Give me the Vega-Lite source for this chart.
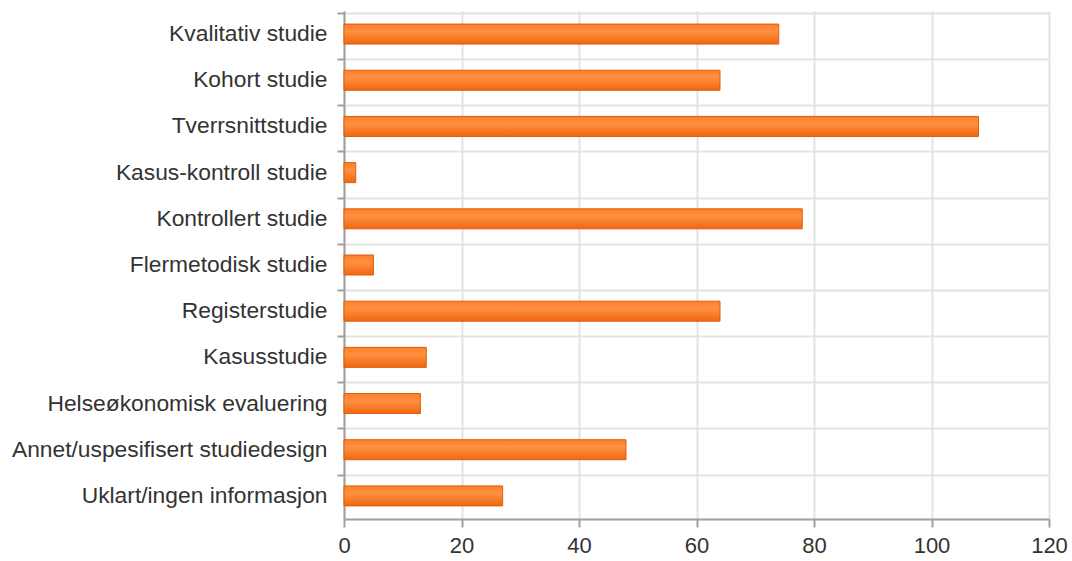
{
  "$schema": "https://vega.github.io/schema/vega-lite/v6.json",
  "autosize": {"type": "none"},
  "padding": {"left": 344, "top": 11, "right": 23, "bottom": 42},
  "width": 705,
  "height": 508,
  "background": "white",
  "data": {
    "values": [
      {"design": "Kvalitativ studie", "antall": 74},
      {"design": "Kohort studie", "antall": 64},
      {"design": "Tverrsnittstudie", "antall": 108},
      {"design": "Kasus-kontroll studie", "antall": 2},
      {"design": "Kontrollert studie", "antall": 78},
      {"design": "Flermetodisk studie", "antall": 5},
      {"design": "Registerstudie", "antall": 64},
      {"design": "Kasusstudie", "antall": 14},
      {"design": "Helseøkonomisk evaluering", "antall": 13},
      {"design": "Annet/uspesifisert studiedesign", "antall": 48},
      {"design": "Uklart/ingen informasjon", "antall": 27}
    ]
  },
  "mark": {
    "type": "bar",
    "size": 20,
    "stroke": "#dc5f0a",
    "strokeWidth": 1,
    "color": {
      "gradient": "linear",
      "x1": 0, "y1": 0, "x2": 0, "y2": 1,
      "stops": [
        {"offset": 0, "color": "#ff7d28"},
        {"offset": 0.35, "color": "#ff9142"},
        {"offset": 1, "color": "#f0670f"}
      ]
    }
  },
  "encoding": {
    "y": {
      "field": "design",
      "type": "nominal",
      "sort": null,
      "title": null,
      "axis": {
        "bandPosition": 0,
        "grid": true,
        "gridColor": "#e3e3e3",
        "gridWidth": 2,
        "domainColor": "#a0a0a0",
        "domainWidth": 2,
        "tickColor": "#a0a0a0",
        "tickWidth": 2,
        "tickSize": 7,
        "labelFont": "Liberation Sans",
        "labelFontSize": 22.8,
        "labelColor": "#333333",
        "labelPadding": 10,
        "labelBaseline": "middle",
        "labelLimit": 400
      }
    },
    "x": {
      "field": "antall",
      "type": "quantitative",
      "scale": {"domain": [0, 120], "nice": false},
      "title": null,
      "axis": {
        "values": [0, 20, 40, 60, 80, 100, 120],
        "grid": true,
        "gridColor": "#e3e3e3",
        "gridWidth": 2,
        "domainColor": "#a0a0a0",
        "domainWidth": 2,
        "tickColor": "#a0a0a0",
        "tickWidth": 2,
        "tickSize": 8,
        "labelFont": "Liberation Sans",
        "labelFontSize": 22,
        "labelColor": "#333333",
        "labelPadding": 8,
        "labelFlush": false
      }
    }
  },
  "config": {"view": {"stroke": null}}
}
